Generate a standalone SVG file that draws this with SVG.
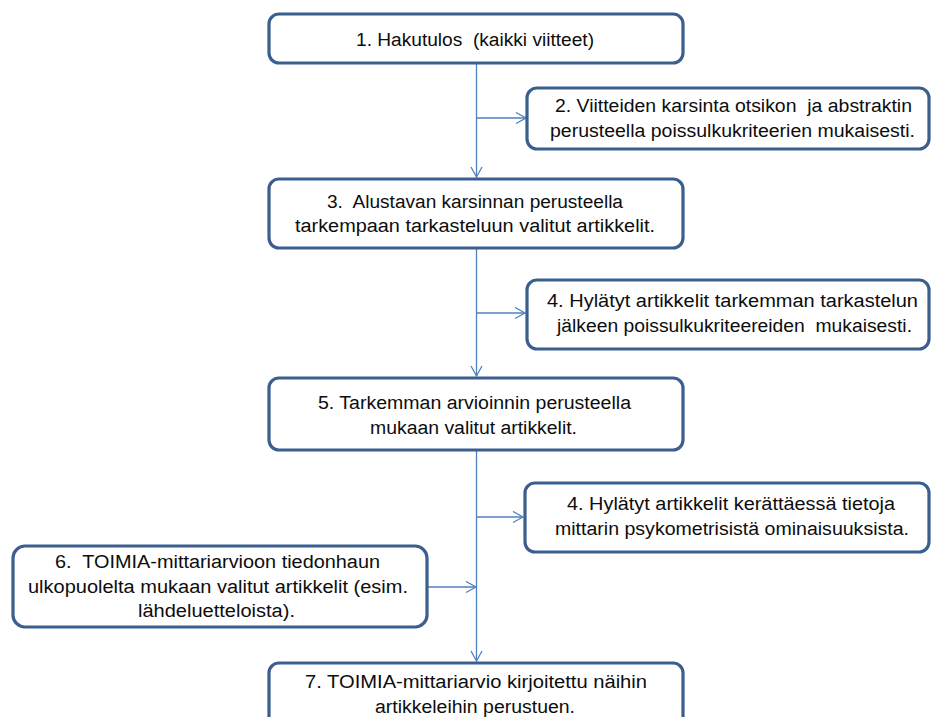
<svg xmlns="http://www.w3.org/2000/svg" width="932" height="717" viewBox="0 0 932 717">
<style>
.box{fill:#fff;stroke:#3A5F8F;stroke-width:3.2}
.conn{stroke:#4F81BD;stroke-width:1.3;fill:none}
text{font-family:"Liberation Sans",Arial,sans-serif;font-size:18px;fill:#0d0d0d;text-anchor:middle;white-space:pre}
</style>
<defs>
<marker id="ah" markerUnits="userSpaceOnUse" markerWidth="14" markerHeight="14" refX="11" refY="6" orient="auto" viewBox="0 0 14 14">
<path d="M1,0.5 L11,6 L1,11.5" fill="none" stroke="#4F81BD" stroke-width="1.3"/>
</marker>
</defs>
<g id="connectors">
<line class="conn" x1="476.5" y1="63" x2="476.5" y2="177" marker-end="url(#ah)"/>
<line class="conn" x1="476.5" y1="118" x2="526" y2="118" marker-end="url(#ah)"/>
<line class="conn" x1="476.5" y1="248" x2="476.5" y2="376" marker-end="url(#ah)"/>
<line class="conn" x1="476.5" y1="313" x2="525" y2="313" marker-end="url(#ah)"/>
<line class="conn" x1="476.5" y1="450" x2="476.5" y2="661" marker-end="url(#ah)"/>
<line class="conn" x1="476.5" y1="517" x2="523" y2="517" marker-end="url(#ah)"/>
<line class="conn" x1="427" y1="587" x2="476" y2="587" marker-end="url(#ah)"/>
</g>
<g id="n1">
<rect class="box" x="269" y="14" width="414" height="49" rx="10"/>
<text x="475" y="46" textLength="238" lengthAdjust="spacingAndGlyphs">1. Hakutulos  (kaikki viitteet)</text>
</g>
<g id="n2">
<rect class="box" x="527" y="88" width="402" height="61" rx="10"/>
<text x="733.5" y="112" textLength="357" lengthAdjust="spacingAndGlyphs">2. Viitteiden karsinta otsikon  ja abstraktin</text>
<text x="732.5" y="137" textLength="365" lengthAdjust="spacingAndGlyphs">perusteella poissulkukriteerien mukaisesti.</text>
</g>
<g id="n3">
<rect class="box" x="269" y="179" width="414" height="69" rx="10"/>
<text x="475" y="208" textLength="296" lengthAdjust="spacingAndGlyphs">3.  Alustavan karsinnan perusteella</text>
<text x="475" y="232" textLength="360" lengthAdjust="spacingAndGlyphs">tarkempaan tarkasteluun valitut artikkelit.</text>
</g>
<g id="n4a">
<rect class="box" x="527" y="280" width="402" height="69" rx="10"/>
<text x="732.5" y="307" textLength="371" lengthAdjust="spacingAndGlyphs">4. Hylätyt artikkelit tarkemman tarkastelun</text>
<text x="734.5" y="332" textLength="355" lengthAdjust="spacingAndGlyphs">jälkeen poissulkukriteereiden  mukaisesti.</text>
</g>
<g id="n5">
<rect class="box" x="269" y="378" width="414" height="72" rx="10"/>
<text x="474.5" y="409" textLength="313" lengthAdjust="spacingAndGlyphs">5. Tarkemman arvioinnin perusteella</text>
<text x="473.5" y="434" textLength="207" lengthAdjust="spacingAndGlyphs">mukaan valitut artikkelit.</text>
</g>
<g id="n4b">
<rect class="box" x="525" y="483" width="404" height="69" rx="10"/>
<text x="731" y="510" textLength="328" lengthAdjust="spacingAndGlyphs">4. Hylätyt artikkelit kerättäessä tietoja</text>
<text x="732" y="535" textLength="354" lengthAdjust="spacingAndGlyphs">mittarin psykometrisistä ominaisuuksista.</text>
</g>
<g id="n6">
<rect class="box" x="13" y="546" width="414" height="81" rx="12"/>
<text x="217.5" y="568" textLength="325" lengthAdjust="spacingAndGlyphs">6.  TOIMIA-mittariarvioon tiedonhaun</text>
<text x="218" y="593" textLength="380" lengthAdjust="spacingAndGlyphs">ulkopuolelta mukaan valitut artikkelit (esim.</text>
<text x="216.5" y="617" textLength="157" lengthAdjust="spacingAndGlyphs">lähdeluetteloista).</text>
</g>
<g id="n7">
<rect class="box" x="269" y="663" width="414" height="80" rx="10"/>
<text x="476" y="688" textLength="342" lengthAdjust="spacingAndGlyphs">7. TOIMIA-mittariarvio kirjoitettu näihin</text>
<text x="475" y="713" textLength="200" lengthAdjust="spacingAndGlyphs">artikkeleihin perustuen.</text>
</g>
</svg>
